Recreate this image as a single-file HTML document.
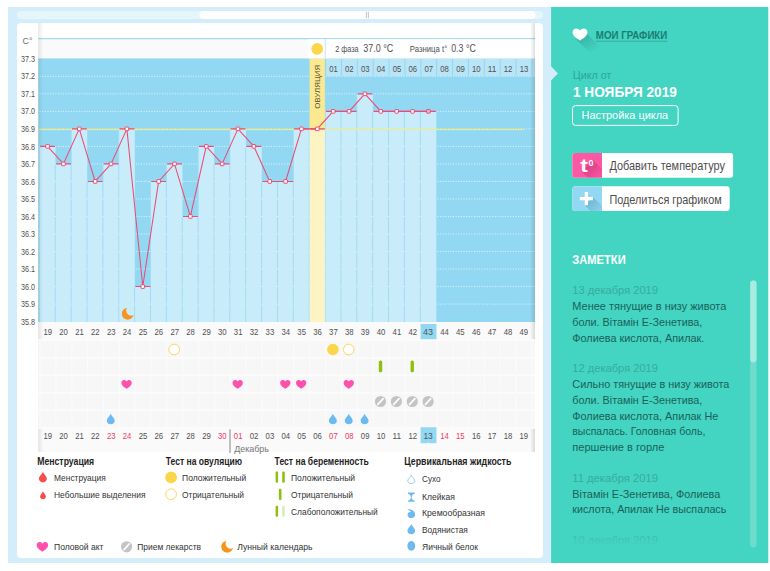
<!DOCTYPE html>
<html lang="ru"><head><meta charset="utf-8"><title>График базальной температуры</title>
<style>
html,body{margin:0;padding:0;background:#fff}
body{width:770px;height:571px;overflow:hidden;font-family:"Liberation Sans",sans-serif}
svg{display:block;font-family:"Liberation Sans",sans-serif}
</style></head><body>
<svg width="770" height="571" viewBox="0 0 770 571">
<defs>
<linearGradient id="shL" x1="0" x2="1" y1="0" y2="0"><stop offset="0" stop-color="#000" stop-opacity=".09"/><stop offset="1" stop-color="#000" stop-opacity="0"/></linearGradient>
<linearGradient id="shR" x1="1" x2="0" y1="0" y2="0"><stop offset="0" stop-color="#000" stop-opacity=".13"/><stop offset="1" stop-color="#000" stop-opacity="0"/></linearGradient>
<linearGradient id="fade" x1="0" x2="0" y1="0" y2="1"><stop offset="0" stop-color="#44d4c2" stop-opacity="0"/><stop offset="1" stop-color="#44d4c2" stop-opacity="1"/></linearGradient>
<linearGradient id="ls1" x1="0" x2="1" y1="0" y2="1"><stop offset="0" stop-color="#000" stop-opacity=".2"/><stop offset=".9" stop-color="#000" stop-opacity="0"/></linearGradient>
<linearGradient id="ls2" gradientUnits="userSpaceOnUse" x1="586" y1="163" x2="600" y2="177"><stop offset="0" stop-color="#7a0030" stop-opacity=".3"/><stop offset="1" stop-color="#7a0030" stop-opacity=".04"/></linearGradient>
<linearGradient id="ls3" gradientUnits="userSpaceOnUse" x1="587" y1="198" x2="601" y2="212"><stop offset="0" stop-color="#00507a" stop-opacity=".28"/><stop offset="1" stop-color="#00507a" stop-opacity=".04"/></linearGradient>
<pattern id="hatch" width="3" height="3" patternUnits="userSpaceOnUse"><rect width="3" height="3" fill="#f8f8f8"/><path d="M-1 2L1 4M0 0L3 3M2 -1L4 1" stroke="#f4f4f4" stroke-width="1"/></pattern>
<clipPath id="notesclip"><rect x="560" y="270" width="185" height="276"/></clipPath>
<path id="heart" d="M0 -3.1 C-1.4 -5.7 -5.7 -5.3 -5.7 -1.7 C-5.7 1.5 -2.6 3.2 0 5 C2.6 3.2 5.7 1.5 5.7 -1.7 C5.7 -5.3 1.4 -5.7 0 -3.1Z"/>
<path id="drop" d="M0 -5.5 C0.5 -3 3.95 -1 3.95 1.7 C3.95 3.8 2.2 5.3 0 5.3 C-2.2 5.3 -3.95 3.8 -3.95 1.7 C-3.95 -1 -0.5 -3 0 -5.5Z"/>
<g id="med"><circle r="5.6" fill="#c4c4c4"/><path d="M-2.7 2.9 L2.7 -2.9" stroke="#fff" stroke-width="1.6" stroke-linecap="round"/></g>
<path id="moon" transform="rotate(-13)" d="M1.2 -5.9 A5.95 5.95 0 1 0 5.9 2.7 A5.1 5.1 0 0 1 1.2 -5.9Z"/>
</defs>
<rect x="8" y="7" width="543.5" height="556" fill="#d3eefa"/>
<rect x="17" y="11" width="526" height="8" rx="4" fill="#e5f5fc"/>
<rect x="199.5" y="11" width="336" height="8" rx="4" fill="#fff"/>
<path d="M366.4 11.8v6.4M368.4 11.8v6.4" stroke="#c6cddd" stroke-width="1.2"/>
<rect x="17" y="23" width="526" height="535" rx="4" fill="#fff"/>
<rect x="38.2" y="39" width="496.8" height="20" fill="#fafafa"/>
<rect x="38.2" y="322" width="496.8" height="130" fill="#fafafa"/>
<rect x="38.2" y="38" width="496.8" height="1.3" fill="#a5dcf2"/>
<rect x="38.2" y="58.4" width="496.8" height="263.6" fill="#93d8f2"/>
<path d="M39.7 76.32H535M39.7 93.84H535M39.7 111.36H535M39.7 128.88H535M39.7 146.4H535M39.7 163.92H535M39.7 181.44H535M39.7 198.96H535M39.7 216.48H535M39.7 234H535M39.7 251.52H535M39.7 269.04H535M39.7 286.56H535M39.7 304.08H535" stroke="#fff" stroke-opacity=".75" stroke-width="1" stroke-dasharray="1 1.6" fill="none"/>
<path d="M39.6 146.4H55.47V322H39.6ZM55.47 163.92H71.34V322H55.47ZM71.34 128.88H87.21V322H71.34ZM87.21 181.44H103.08V322H87.21ZM103.08 163.92H118.95V322H103.08ZM118.95 128.88H134.82V322H118.95ZM134.82 286.56H150.69V322H134.82ZM150.69 181.44H166.56V322H150.69ZM166.56 163.92H182.43V322H166.56ZM182.43 216.48H198.3V322H182.43ZM198.3 146.4H214.17V322H198.3ZM214.17 163.92H230.04V322H214.17ZM230.04 128.88H245.91V322H230.04ZM245.91 146.4H261.78V322H245.91ZM261.78 181.44H277.65V322H261.78ZM277.65 181.44H293.52V322H277.65ZM293.52 128.88H309.39V322H293.52ZM309.39 128.88H325.26V322H309.39ZM325.26 111.36H341.13V322H325.26ZM341.13 111.36H357V322H341.13ZM357 93.84H372.87V322H357ZM372.87 111.36H388.74V322H372.87ZM388.74 111.36H404.61V322H388.74ZM404.61 111.36H420.48V322H404.61ZM420.48 111.36H436.35V322H420.48Z" fill="#c9ecfb"/>
<path d="M55.27 164.42V322M71.14 129.38V322M87.01 181.94V322M102.88 164.42V322M118.75 129.38V322M134.62 287.06V322M150.49 181.94V322M166.36 164.42V322M182.23 216.98V322M198.1 146.9V322M213.97 164.42V322M229.84 129.38V322M245.71 146.9V322M261.58 181.94V322M277.45 181.94V322M293.32 129.38V322M309.19 129.38V322M325.06 111.86V322M340.93 111.86V322M356.8 94.34V322M372.67 111.86V322M388.54 111.86V322M404.41 111.86V322M420.28 111.86V322" stroke="#a3dbf3" stroke-width="1" fill="none"/>
<path d="M54.67 181.44h1.2M54.67 198.96h1.2M54.67 216.48h1.2M54.67 234h1.2M54.67 251.52h1.2M54.67 269.04h1.2M54.67 286.56h1.2M54.67 304.08h1.2M70.54 181.44h1.2M70.54 198.96h1.2M70.54 216.48h1.2M70.54 234h1.2M70.54 251.52h1.2M70.54 269.04h1.2M70.54 286.56h1.2M70.54 304.08h1.2M86.41 198.96h1.2M86.41 216.48h1.2M86.41 234h1.2M86.41 251.52h1.2M86.41 269.04h1.2M86.41 286.56h1.2M86.41 304.08h1.2M102.28 198.96h1.2M102.28 216.48h1.2M102.28 234h1.2M102.28 251.52h1.2M102.28 269.04h1.2M102.28 286.56h1.2M102.28 304.08h1.2M118.15 181.44h1.2M118.15 198.96h1.2M118.15 216.48h1.2M118.15 234h1.2M118.15 251.52h1.2M118.15 269.04h1.2M118.15 286.56h1.2M118.15 304.08h1.2M134.02 304.08h1.2M149.89 304.08h1.2M165.76 198.96h1.2M165.76 216.48h1.2M165.76 234h1.2M165.76 251.52h1.2M165.76 269.04h1.2M165.76 286.56h1.2M165.76 304.08h1.2M181.63 234h1.2M181.63 251.52h1.2M181.63 269.04h1.2M181.63 286.56h1.2M181.63 304.08h1.2M197.5 234h1.2M197.5 251.52h1.2M197.5 269.04h1.2M197.5 286.56h1.2M197.5 304.08h1.2M213.37 181.44h1.2M213.37 198.96h1.2M213.37 216.48h1.2M213.37 234h1.2M213.37 251.52h1.2M213.37 269.04h1.2M213.37 286.56h1.2M213.37 304.08h1.2M229.24 181.44h1.2M229.24 198.96h1.2M229.24 216.48h1.2M229.24 234h1.2M229.24 251.52h1.2M229.24 269.04h1.2M229.24 286.56h1.2M229.24 304.08h1.2M245.11 163.92h1.2M245.11 181.44h1.2M245.11 198.96h1.2M245.11 216.48h1.2M245.11 234h1.2M245.11 251.52h1.2M245.11 269.04h1.2M245.11 286.56h1.2M245.11 304.08h1.2M260.98 198.96h1.2M260.98 216.48h1.2M260.98 234h1.2M260.98 251.52h1.2M260.98 269.04h1.2M260.98 286.56h1.2M260.98 304.08h1.2M276.85 198.96h1.2M276.85 216.48h1.2M276.85 234h1.2M276.85 251.52h1.2M276.85 269.04h1.2M276.85 286.56h1.2M276.85 304.08h1.2M292.72 198.96h1.2M292.72 216.48h1.2M292.72 234h1.2M292.72 251.52h1.2M292.72 269.04h1.2M292.72 286.56h1.2M292.72 304.08h1.2M308.59 146.4h1.2M308.59 163.92h1.2M308.59 181.44h1.2M308.59 198.96h1.2M308.59 216.48h1.2M308.59 234h1.2M308.59 251.52h1.2M308.59 269.04h1.2M308.59 286.56h1.2M308.59 304.08h1.2M324.46 146.4h1.2M324.46 163.92h1.2M324.46 181.44h1.2M324.46 198.96h1.2M324.46 216.48h1.2M324.46 234h1.2M324.46 251.52h1.2M324.46 269.04h1.2M324.46 286.56h1.2M324.46 304.08h1.2M340.33 128.88h1.2M340.33 146.4h1.2M340.33 163.92h1.2M340.33 181.44h1.2M340.33 198.96h1.2M340.33 216.48h1.2M340.33 234h1.2M340.33 251.52h1.2M340.33 269.04h1.2M340.33 286.56h1.2M340.33 304.08h1.2M356.2 128.88h1.2M356.2 146.4h1.2M356.2 163.92h1.2M356.2 181.44h1.2M356.2 198.96h1.2M356.2 216.48h1.2M356.2 234h1.2M356.2 251.52h1.2M356.2 269.04h1.2M356.2 286.56h1.2M356.2 304.08h1.2M372.07 128.88h1.2M372.07 146.4h1.2M372.07 163.92h1.2M372.07 181.44h1.2M372.07 198.96h1.2M372.07 216.48h1.2M372.07 234h1.2M372.07 251.52h1.2M372.07 269.04h1.2M372.07 286.56h1.2M372.07 304.08h1.2M387.94 128.88h1.2M387.94 146.4h1.2M387.94 163.92h1.2M387.94 181.44h1.2M387.94 198.96h1.2M387.94 216.48h1.2M387.94 234h1.2M387.94 251.52h1.2M387.94 269.04h1.2M387.94 286.56h1.2M387.94 304.08h1.2M403.81 128.88h1.2M403.81 146.4h1.2M403.81 163.92h1.2M403.81 181.44h1.2M403.81 198.96h1.2M403.81 216.48h1.2M403.81 234h1.2M403.81 251.52h1.2M403.81 269.04h1.2M403.81 286.56h1.2M403.81 304.08h1.2M419.68 128.88h1.2M419.68 146.4h1.2M419.68 163.92h1.2M419.68 181.44h1.2M419.68 198.96h1.2M419.68 216.48h1.2M419.68 234h1.2M419.68 251.52h1.2M419.68 269.04h1.2M419.68 286.56h1.2M419.68 304.08h1.2" stroke="#dff3fc" stroke-width="1" fill="none"/>
<rect x="309.59" y="58.4" width="15.27" height="70.48" fill="#fbe991"/>
<rect x="309.59" y="128.88" width="15.27" height="193.12" fill="#fdf4c3"/>
<rect x="326.16" y="58.4" width="14.77" height="17.6" fill="#b9e5f7"/>
<rect x="342.03" y="58.4" width="14.77" height="17.6" fill="#b9e5f7"/>
<rect x="357.9" y="58.4" width="14.77" height="17.6" fill="#b9e5f7"/>
<rect x="373.77" y="58.4" width="14.77" height="17.6" fill="#b9e5f7"/>
<rect x="389.64" y="58.4" width="14.77" height="17.6" fill="#b9e5f7"/>
<rect x="405.51" y="58.4" width="14.77" height="17.6" fill="#b9e5f7"/>
<rect x="421.38" y="58.4" width="14.77" height="17.6" fill="#b9e5f7"/>
<rect x="437.25" y="58.4" width="14.77" height="17.6" fill="#b9e5f7"/>
<rect x="453.12" y="58.4" width="14.77" height="17.6" fill="#b9e5f7"/>
<rect x="468.99" y="58.4" width="14.77" height="17.6" fill="#b9e5f7"/>
<rect x="484.86" y="58.4" width="14.77" height="17.6" fill="#b9e5f7"/>
<rect x="500.73" y="58.4" width="14.77" height="17.6" fill="#b9e5f7"/>
<rect x="516.6" y="58.4" width="14.77" height="17.6" fill="#b9e5f7"/>
<rect x="532.47" y="58.4" width="2.53" height="17.6" fill="#b9e5f7"/>
<rect x="38.2" y="128.98" width="485.4" height="1.1" fill="#f3ea7c"/>
<path d="M40.2 146.4H55.07M56.07 163.92H70.94M71.94 128.88H86.81M87.81 181.44H102.68M103.68 163.92H118.55M119.55 128.88H134.42M135.42 286.56H150.29M151.29 181.44H166.16M167.16 163.92H182.03M183.03 216.48H197.9M198.9 146.4H213.77M214.77 163.92H229.64M230.64 128.88H245.51M246.51 146.4H261.38M262.38 181.44H277.25M278.25 181.44H293.12M294.12 128.88H308.99M309.99 128.88H324.86M325.86 111.36H340.73M341.73 111.36H356.6M357.6 93.84H372.47M373.47 111.36H388.34M389.34 111.36H404.21M405.21 111.36H420.08M421.08 111.36H435.95" stroke="#e94c74" stroke-width="1.1" fill="none"/>
<polyline points="47.54,146.4 63.41,163.92 79.28,128.88 95.15,181.44 111.02,163.92 126.88,128.88 142.75,286.56 158.62,181.44 174.5,163.92 190.36,216.48 206.23,146.4 222.1,163.92 237.97,128.88 253.84,146.4 269.71,181.44 285.58,181.44 301.45,128.88 317.32,128.88 333.19,111.36 349.06,111.36 364.94,93.84 380.81,111.36 396.68,111.36 412.55,111.36 428.42,111.36" stroke="#e94c74" stroke-width="1.05" fill="none"/>
<rect x="45.74" y="144.6" width="3.6" height="3.6" rx=".5" fill="#fff" stroke="#e94c74" stroke-width="1"/>
<rect x="61.61" y="162.12" width="3.6" height="3.6" rx=".5" fill="#fff" stroke="#e94c74" stroke-width="1"/>
<rect x="77.48" y="127.08" width="3.6" height="3.6" rx=".5" fill="#fff" stroke="#e94c74" stroke-width="1"/>
<rect x="93.35" y="179.64" width="3.6" height="3.6" rx=".5" fill="#fff" stroke="#e94c74" stroke-width="1"/>
<rect x="109.22" y="162.12" width="3.6" height="3.6" rx=".5" fill="#fff" stroke="#e94c74" stroke-width="1"/>
<rect x="125.08" y="127.08" width="3.6" height="3.6" rx=".5" fill="#fff" stroke="#e94c74" stroke-width="1"/>
<rect x="140.95" y="284.76" width="3.6" height="3.6" rx=".5" fill="#fff" stroke="#e94c74" stroke-width="1"/>
<rect x="156.82" y="179.64" width="3.6" height="3.6" rx=".5" fill="#fff" stroke="#e94c74" stroke-width="1"/>
<rect x="172.69" y="162.12" width="3.6" height="3.6" rx=".5" fill="#fff" stroke="#e94c74" stroke-width="1"/>
<rect x="188.56" y="214.68" width="3.6" height="3.6" rx=".5" fill="#fff" stroke="#e94c74" stroke-width="1"/>
<rect x="204.43" y="144.6" width="3.6" height="3.6" rx=".5" fill="#fff" stroke="#e94c74" stroke-width="1"/>
<rect x="220.3" y="162.12" width="3.6" height="3.6" rx=".5" fill="#fff" stroke="#e94c74" stroke-width="1"/>
<rect x="236.17" y="127.08" width="3.6" height="3.6" rx=".5" fill="#fff" stroke="#e94c74" stroke-width="1"/>
<rect x="252.04" y="144.6" width="3.6" height="3.6" rx=".5" fill="#fff" stroke="#e94c74" stroke-width="1"/>
<rect x="267.91" y="179.64" width="3.6" height="3.6" rx=".5" fill="#fff" stroke="#e94c74" stroke-width="1"/>
<rect x="283.78" y="179.64" width="3.6" height="3.6" rx=".5" fill="#fff" stroke="#e94c74" stroke-width="1"/>
<rect x="299.65" y="127.08" width="3.6" height="3.6" rx=".5" fill="#fff" stroke="#e94c74" stroke-width="1"/>
<rect x="315.52" y="127.08" width="3.6" height="3.6" rx=".5" fill="#fff" stroke="#e94c74" stroke-width="1"/>
<rect x="331.39" y="109.56" width="3.6" height="3.6" rx=".5" fill="#fff" stroke="#e94c74" stroke-width="1"/>
<rect x="347.26" y="109.56" width="3.6" height="3.6" rx=".5" fill="#fff" stroke="#e94c74" stroke-width="1"/>
<rect x="363.13" y="92.04" width="3.6" height="3.6" rx=".5" fill="#fff" stroke="#e94c74" stroke-width="1"/>
<rect x="379" y="109.56" width="3.6" height="3.6" rx=".5" fill="#fff" stroke="#e94c74" stroke-width="1"/>
<rect x="394.88" y="109.56" width="3.6" height="3.6" rx=".5" fill="#fff" stroke="#e94c74" stroke-width="1"/>
<rect x="410.75" y="109.56" width="3.6" height="3.6" rx=".5" fill="#fff" stroke="#e94c74" stroke-width="1"/>
<rect x="426.62" y="109.56" width="3.6" height="3.6" rx=".5" fill="#f7b9c9" stroke="#e94c74" stroke-width="1"/>
<rect x="308.19" y="39.3" width="226.81" height="19.1" fill="#fff"/>
<rect x="324.66" y="39" width="1.1" height="19.4" fill="#c4e8f7"/>
<circle cx="317.2" cy="48.9" r="5.9" fill="#fbd64b"/>
<text x="335.2" y="52.1" font-size="8.2" fill="#505050" textLength="23.5" lengthAdjust="spacingAndGlyphs">2 фаза</text>
<text x="363.2" y="52.2" font-size="10.2" fill="#505050" textLength="30" lengthAdjust="spacingAndGlyphs">37.0 °C</text>
<text x="409.8" y="52.1" font-size="8.2" fill="#505050" textLength="37.5" lengthAdjust="spacingAndGlyphs">Разница t°</text>
<text x="451.2" y="52.2" font-size="10.2" fill="#505050" textLength="24.6" lengthAdjust="spacingAndGlyphs">0.3 °C</text>
<text transform="translate(320.2 108.8) rotate(-90)" font-size="8" fill="#5a5438" textLength="44" lengthAdjust="spacingAndGlyphs">ОВУЛЯЦИЯ</text>
<text x="333.5" y="72.2" font-size="8.2" fill="#505050" text-anchor="middle" textLength="8.6" lengthAdjust="spacingAndGlyphs">01</text>
<text x="349.37" y="72.2" font-size="8.2" fill="#505050" text-anchor="middle" textLength="8.6" lengthAdjust="spacingAndGlyphs">02</text>
<text x="365.24" y="72.2" font-size="8.2" fill="#505050" text-anchor="middle" textLength="8.6" lengthAdjust="spacingAndGlyphs">03</text>
<text x="381.11" y="72.2" font-size="8.2" fill="#505050" text-anchor="middle" textLength="8.6" lengthAdjust="spacingAndGlyphs">04</text>
<text x="396.98" y="72.2" font-size="8.2" fill="#505050" text-anchor="middle" textLength="8.6" lengthAdjust="spacingAndGlyphs">05</text>
<text x="412.85" y="72.2" font-size="8.2" fill="#505050" text-anchor="middle" textLength="8.6" lengthAdjust="spacingAndGlyphs">06</text>
<text x="428.72" y="72.2" font-size="8.2" fill="#505050" text-anchor="middle" textLength="8.6" lengthAdjust="spacingAndGlyphs">07</text>
<text x="444.59" y="72.2" font-size="8.2" fill="#505050" text-anchor="middle" textLength="8.6" lengthAdjust="spacingAndGlyphs">08</text>
<text x="460.46" y="72.2" font-size="8.2" fill="#505050" text-anchor="middle" textLength="8.6" lengthAdjust="spacingAndGlyphs">09</text>
<text x="476.32" y="72.2" font-size="8.2" fill="#505050" text-anchor="middle" textLength="8.6" lengthAdjust="spacingAndGlyphs">10</text>
<text x="492.19" y="72.2" font-size="8.2" fill="#505050" text-anchor="middle" textLength="8.6" lengthAdjust="spacingAndGlyphs">11</text>
<text x="508.06" y="72.2" font-size="8.2" fill="#505050" text-anchor="middle" textLength="8.6" lengthAdjust="spacingAndGlyphs">12</text>
<text x="523.93" y="72.2" font-size="8.2" fill="#505050" text-anchor="middle" textLength="8.6" lengthAdjust="spacingAndGlyphs">13</text>
<text x="22.6" y="44.2" font-size="9.8" fill="#707070" textLength="10" lengthAdjust="spacingAndGlyphs">C°</text>
<text x="21.1" y="61.9" font-size="8.3" fill="#505050" textLength="14" lengthAdjust="spacingAndGlyphs">37.3</text>
<text x="21.1" y="79.42" font-size="8.3" fill="#505050" textLength="14" lengthAdjust="spacingAndGlyphs">37.2</text>
<text x="21.1" y="96.94" font-size="8.3" fill="#505050" textLength="14" lengthAdjust="spacingAndGlyphs">37.1</text>
<text x="21.1" y="114.46" font-size="8.3" fill="#505050" textLength="14" lengthAdjust="spacingAndGlyphs">37.0</text>
<text x="21.1" y="131.98" font-size="8.3" fill="#505050" textLength="14" lengthAdjust="spacingAndGlyphs">36.9</text>
<text x="21.1" y="149.5" font-size="8.3" fill="#505050" textLength="14" lengthAdjust="spacingAndGlyphs">36.8</text>
<text x="21.1" y="167.02" font-size="8.3" fill="#505050" textLength="14" lengthAdjust="spacingAndGlyphs">36.7</text>
<text x="21.1" y="184.54" font-size="8.3" fill="#505050" textLength="14" lengthAdjust="spacingAndGlyphs">36.6</text>
<text x="21.1" y="202.06" font-size="8.3" fill="#505050" textLength="14" lengthAdjust="spacingAndGlyphs">36.5</text>
<text x="21.1" y="219.58" font-size="8.3" fill="#505050" textLength="14" lengthAdjust="spacingAndGlyphs">36.4</text>
<text x="21.1" y="237.1" font-size="8.3" fill="#505050" textLength="14" lengthAdjust="spacingAndGlyphs">36.3</text>
<text x="21.1" y="254.62" font-size="8.3" fill="#505050" textLength="14" lengthAdjust="spacingAndGlyphs">36.2</text>
<text x="21.1" y="272.14" font-size="8.3" fill="#505050" textLength="14" lengthAdjust="spacingAndGlyphs">36.1</text>
<text x="21.1" y="289.66" font-size="8.3" fill="#505050" textLength="14" lengthAdjust="spacingAndGlyphs">36.0</text>
<text x="21.1" y="307.18" font-size="8.3" fill="#505050" textLength="14" lengthAdjust="spacingAndGlyphs">35.9</text>
<text x="21.1" y="324.7" font-size="8.3" fill="#505050" textLength="14" lengthAdjust="spacingAndGlyphs">35.8</text>
<rect x="38.2" y="23" width="5" height="429" fill="url(#shL)"/>
<rect x="530" y="23" width="5" height="429" fill="url(#shR)"/>
<rect x="420.58" y="324" width="15.87" height="16.5" fill="#93d8f2"/>
<text x="47.74" y="335" font-size="8.2" fill="#505050" text-anchor="middle" textLength="8.6" lengthAdjust="spacingAndGlyphs">19</text>
<text x="63.61" y="335" font-size="8.2" fill="#505050" text-anchor="middle" textLength="8.6" lengthAdjust="spacingAndGlyphs">20</text>
<text x="79.48" y="335" font-size="8.2" fill="#505050" text-anchor="middle" textLength="8.6" lengthAdjust="spacingAndGlyphs">21</text>
<text x="95.35" y="335" font-size="8.2" fill="#505050" text-anchor="middle" textLength="8.6" lengthAdjust="spacingAndGlyphs">22</text>
<text x="111.22" y="335" font-size="8.2" fill="#505050" text-anchor="middle" textLength="8.6" lengthAdjust="spacingAndGlyphs">23</text>
<text x="127.08" y="335" font-size="8.2" fill="#505050" text-anchor="middle" textLength="8.6" lengthAdjust="spacingAndGlyphs">24</text>
<text x="142.95" y="335" font-size="8.2" fill="#505050" text-anchor="middle" textLength="8.6" lengthAdjust="spacingAndGlyphs">25</text>
<text x="158.82" y="335" font-size="8.2" fill="#505050" text-anchor="middle" textLength="8.6" lengthAdjust="spacingAndGlyphs">26</text>
<text x="174.69" y="335" font-size="8.2" fill="#505050" text-anchor="middle" textLength="8.6" lengthAdjust="spacingAndGlyphs">27</text>
<text x="190.56" y="335" font-size="8.2" fill="#505050" text-anchor="middle" textLength="8.6" lengthAdjust="spacingAndGlyphs">28</text>
<text x="206.43" y="335" font-size="8.2" fill="#505050" text-anchor="middle" textLength="8.6" lengthAdjust="spacingAndGlyphs">29</text>
<text x="222.3" y="335" font-size="8.2" fill="#505050" text-anchor="middle" textLength="8.6" lengthAdjust="spacingAndGlyphs">30</text>
<text x="238.17" y="335" font-size="8.2" fill="#505050" text-anchor="middle" textLength="8.6" lengthAdjust="spacingAndGlyphs">31</text>
<text x="254.04" y="335" font-size="8.2" fill="#505050" text-anchor="middle" textLength="8.6" lengthAdjust="spacingAndGlyphs">32</text>
<text x="269.91" y="335" font-size="8.2" fill="#505050" text-anchor="middle" textLength="8.6" lengthAdjust="spacingAndGlyphs">33</text>
<text x="285.78" y="335" font-size="8.2" fill="#505050" text-anchor="middle" textLength="8.6" lengthAdjust="spacingAndGlyphs">34</text>
<text x="301.65" y="335" font-size="8.2" fill="#505050" text-anchor="middle" textLength="8.6" lengthAdjust="spacingAndGlyphs">35</text>
<text x="317.52" y="335" font-size="8.2" fill="#505050" text-anchor="middle" textLength="8.6" lengthAdjust="spacingAndGlyphs">36</text>
<text x="333.39" y="335" font-size="8.2" fill="#505050" text-anchor="middle" textLength="8.6" lengthAdjust="spacingAndGlyphs">37</text>
<text x="349.26" y="335" font-size="8.2" fill="#505050" text-anchor="middle" textLength="8.6" lengthAdjust="spacingAndGlyphs">38</text>
<text x="365.13" y="335" font-size="8.2" fill="#505050" text-anchor="middle" textLength="8.6" lengthAdjust="spacingAndGlyphs">39</text>
<text x="381" y="335" font-size="8.2" fill="#505050" text-anchor="middle" textLength="8.6" lengthAdjust="spacingAndGlyphs">40</text>
<text x="396.88" y="335" font-size="8.2" fill="#505050" text-anchor="middle" textLength="8.6" lengthAdjust="spacingAndGlyphs">41</text>
<text x="412.75" y="335" font-size="8.2" fill="#505050" text-anchor="middle" textLength="8.6" lengthAdjust="spacingAndGlyphs">42</text>
<text x="428.12" y="335.2" font-size="9.3" fill="#475861" text-anchor="middle" textLength="10" lengthAdjust="spacingAndGlyphs">43</text>
<text x="444.49" y="335" font-size="8.2" fill="#505050" text-anchor="middle" textLength="8.6" lengthAdjust="spacingAndGlyphs">44</text>
<text x="460.36" y="335" font-size="8.2" fill="#505050" text-anchor="middle" textLength="8.6" lengthAdjust="spacingAndGlyphs">45</text>
<text x="476.22" y="335" font-size="8.2" fill="#505050" text-anchor="middle" textLength="8.6" lengthAdjust="spacingAndGlyphs">46</text>
<text x="492.09" y="335" font-size="8.2" fill="#505050" text-anchor="middle" textLength="8.6" lengthAdjust="spacingAndGlyphs">47</text>
<text x="507.96" y="335" font-size="8.2" fill="#505050" text-anchor="middle" textLength="8.6" lengthAdjust="spacingAndGlyphs">48</text>
<text x="523.83" y="335" font-size="8.2" fill="#505050" text-anchor="middle" textLength="8.6" lengthAdjust="spacingAndGlyphs">49</text>
<rect x="38.2" y="341" width="496.8" height="86" fill="url(#hatch)"/>
<path d="M40 340V428M55.87 340V428M71.74 340V428M87.61 340V428M103.48 340V428M119.35 340V428M135.22 340V428M151.09 340V428M166.96 340V428M182.83 340V428M198.7 340V428M214.57 340V428M230.44 340V428M246.31 340V428M262.18 340V428M278.05 340V428M293.92 340V428M309.79 340V428M325.66 340V428M341.53 340V428M357.4 340V428M373.27 340V428M389.14 340V428M405.01 340V428M420.88 340V428M436.75 340V428M452.62 340V428M468.49 340V428M484.36 340V428M500.23 340V428M516.1 340V428M531.97 340V428" stroke="#fbfbfb" stroke-width="1.2" fill="none"/>
<path d="M38.2 340.2H535M38.2 357.7H535M38.2 375.2H535M38.2 392.7H535M38.2 410.2H535M38.2 427.7H535" stroke="#fbfbfb" stroke-width="2" fill="none"/>
<circle cx="174.19" cy="349.5" r="5.3" fill="#fff" stroke="#fbd85c" stroke-width="1"/>
<circle cx="332.89" cy="349.5" r="5.8" fill="#fbd64b"/>
<circle cx="348.76" cy="349.5" r="5.3" fill="#fff" stroke="#fbd85c" stroke-width="1"/>
<rect x="378.81" y="360.6" width="3.4" height="11.6" rx="1.5" fill="#8dc110"/>
<rect x="410.55" y="360.6" width="3.4" height="11.6" rx="1.5" fill="#8dc110"/>
<use href="#heart" fill="#ff50ae" transform="translate(126.58 384.2) scale(.9)"/>
<use href="#heart" fill="#ff50ae" transform="translate(237.67 384.2) scale(.9)"/>
<use href="#heart" fill="#ff50ae" transform="translate(285.28 384.2) scale(.9)"/>
<use href="#heart" fill="#ff50ae" transform="translate(301.15 384.2) scale(.9)"/>
<use href="#heart" fill="#ff50ae" transform="translate(348.76 384.2) scale(.9)"/>
<use href="#med" x="380.5" y="401.5"/>
<use href="#med" x="396.38" y="401.5"/>
<use href="#med" x="412.25" y="401.5"/>
<use href="#med" x="428.12" y="401.5"/>
<use href="#drop" x="110.72" y="419" fill="#6cbaf0"/>
<use href="#drop" x="332.89" y="419" fill="#6cbaf0"/>
<use href="#drop" x="348.76" y="419" fill="#6cbaf0"/>
<use href="#drop" x="364.63" y="419" fill="#6cbaf0"/>
<use href="#moon" x="127.2" y="313.8" fill="#f7941d"/>
<path d="M420.58 427.3H436.45V443.2H429.48L428.48 442.2L427.48 443.2H420.58Z" fill="#93d8f2"/>
<text x="47.74" y="439.4" font-size="8.2" fill="#505050" text-anchor="middle" textLength="8.6" lengthAdjust="spacingAndGlyphs">19</text>
<text x="63.61" y="439.4" font-size="8.2" fill="#505050" text-anchor="middle" textLength="8.6" lengthAdjust="spacingAndGlyphs">20</text>
<text x="79.48" y="439.4" font-size="8.2" fill="#505050" text-anchor="middle" textLength="8.6" lengthAdjust="spacingAndGlyphs">21</text>
<text x="95.35" y="439.4" font-size="8.2" fill="#505050" text-anchor="middle" textLength="8.6" lengthAdjust="spacingAndGlyphs">22</text>
<text x="111.22" y="439.4" font-size="8.2" fill="#ee3a64" text-anchor="middle" textLength="8.6" lengthAdjust="spacingAndGlyphs">23</text>
<text x="127.08" y="439.4" font-size="8.2" fill="#ee3a64" text-anchor="middle" textLength="8.6" lengthAdjust="spacingAndGlyphs">24</text>
<text x="142.95" y="439.4" font-size="8.2" fill="#505050" text-anchor="middle" textLength="8.6" lengthAdjust="spacingAndGlyphs">25</text>
<text x="158.82" y="439.4" font-size="8.2" fill="#505050" text-anchor="middle" textLength="8.6" lengthAdjust="spacingAndGlyphs">26</text>
<text x="174.69" y="439.4" font-size="8.2" fill="#505050" text-anchor="middle" textLength="8.6" lengthAdjust="spacingAndGlyphs">27</text>
<text x="190.56" y="439.4" font-size="8.2" fill="#505050" text-anchor="middle" textLength="8.6" lengthAdjust="spacingAndGlyphs">28</text>
<text x="206.43" y="439.4" font-size="8.2" fill="#505050" text-anchor="middle" textLength="8.6" lengthAdjust="spacingAndGlyphs">29</text>
<text x="222.3" y="439.4" font-size="8.2" fill="#ee3a64" text-anchor="middle" textLength="8.6" lengthAdjust="spacingAndGlyphs">30</text>
<text x="238.17" y="439.4" font-size="8.2" fill="#ee3a64" text-anchor="middle" textLength="8.6" lengthAdjust="spacingAndGlyphs">01</text>
<text x="254.04" y="439.4" font-size="8.2" fill="#505050" text-anchor="middle" textLength="8.6" lengthAdjust="spacingAndGlyphs">02</text>
<text x="269.91" y="439.4" font-size="8.2" fill="#505050" text-anchor="middle" textLength="8.6" lengthAdjust="spacingAndGlyphs">03</text>
<text x="285.78" y="439.4" font-size="8.2" fill="#505050" text-anchor="middle" textLength="8.6" lengthAdjust="spacingAndGlyphs">04</text>
<text x="301.65" y="439.4" font-size="8.2" fill="#505050" text-anchor="middle" textLength="8.6" lengthAdjust="spacingAndGlyphs">05</text>
<text x="317.52" y="439.4" font-size="8.2" fill="#505050" text-anchor="middle" textLength="8.6" lengthAdjust="spacingAndGlyphs">06</text>
<text x="333.39" y="439.4" font-size="8.2" fill="#ee3a64" text-anchor="middle" textLength="8.6" lengthAdjust="spacingAndGlyphs">07</text>
<text x="349.26" y="439.4" font-size="8.2" fill="#ee3a64" text-anchor="middle" textLength="8.6" lengthAdjust="spacingAndGlyphs">08</text>
<text x="365.13" y="439.4" font-size="8.2" fill="#505050" text-anchor="middle" textLength="8.6" lengthAdjust="spacingAndGlyphs">09</text>
<text x="381" y="439.4" font-size="8.2" fill="#505050" text-anchor="middle" textLength="8.6" lengthAdjust="spacingAndGlyphs">10</text>
<text x="396.88" y="439.4" font-size="8.2" fill="#505050" text-anchor="middle" textLength="8.6" lengthAdjust="spacingAndGlyphs">11</text>
<text x="412.75" y="439.4" font-size="8.2" fill="#505050" text-anchor="middle" textLength="8.6" lengthAdjust="spacingAndGlyphs">12</text>
<text x="428.12" y="438.5" font-size="9.3" fill="#475861" text-anchor="middle" textLength="9.4" lengthAdjust="spacingAndGlyphs">13</text>
<text x="444.49" y="439.4" font-size="8.2" fill="#ee3a64" text-anchor="middle" textLength="8.6" lengthAdjust="spacingAndGlyphs">14</text>
<text x="460.36" y="439.4" font-size="8.2" fill="#ee3a64" text-anchor="middle" textLength="8.6" lengthAdjust="spacingAndGlyphs">15</text>
<text x="476.22" y="439.4" font-size="8.2" fill="#505050" text-anchor="middle" textLength="8.6" lengthAdjust="spacingAndGlyphs">16</text>
<text x="492.09" y="439.4" font-size="8.2" fill="#505050" text-anchor="middle" textLength="8.6" lengthAdjust="spacingAndGlyphs">17</text>
<text x="507.96" y="439.4" font-size="8.2" fill="#505050" text-anchor="middle" textLength="8.6" lengthAdjust="spacingAndGlyphs">18</text>
<text x="523.83" y="439.4" font-size="8.2" fill="#505050" text-anchor="middle" textLength="8.6" lengthAdjust="spacingAndGlyphs">19</text>
<rect x="229.5" y="429.3" width="1" height="23.7" fill="#868686"/>
<text x="234.2" y="451.6" font-size="9.6" fill="#777" textLength="34.7" lengthAdjust="spacingAndGlyphs">Декабрь</text>
<text x="37.2" y="464.6" font-size="10" font-weight="bold" fill="#1e1e1e" textLength="57" lengthAdjust="spacingAndGlyphs">Менструация</text>
<text x="165.8" y="464.6" font-size="10" font-weight="bold" fill="#1e1e1e" textLength="76.2" lengthAdjust="spacingAndGlyphs">Тест на овуляцию</text>
<text x="274.6" y="464.6" font-size="10" font-weight="bold" fill="#1e1e1e" textLength="94.2" lengthAdjust="spacingAndGlyphs">Тест на беременность</text>
<text x="404.3" y="464.6" font-size="10" font-weight="bold" fill="#1e1e1e" textLength="107" lengthAdjust="spacingAndGlyphs">Цервикальная жидкость</text>
<text x="54" y="481" font-size="9.5" fill="#333" textLength="51.8" lengthAdjust="spacingAndGlyphs">Менструация</text>
<text x="54" y="498.2" font-size="9.5" fill="#333" textLength="91.5" lengthAdjust="spacingAndGlyphs">Небольшие выделения</text>
<text x="54" y="550.2" font-size="9.5" fill="#333" textLength="49.5" lengthAdjust="spacingAndGlyphs">Половой акт</text>
<text x="137.3" y="550.2" font-size="9.5" fill="#333" textLength="63.7" lengthAdjust="spacingAndGlyphs">Прием лекарств</text>
<text x="237.3" y="550.2" font-size="9.5" fill="#333" textLength="75.3" lengthAdjust="spacingAndGlyphs">Лунный календарь</text>
<text x="182" y="481" font-size="9.5" fill="#333" textLength="64.2" lengthAdjust="spacingAndGlyphs">Положительный</text>
<text x="182" y="498.2" font-size="9.5" fill="#333" textLength="62" lengthAdjust="spacingAndGlyphs">Отрицательный</text>
<text x="291" y="481" font-size="9.5" fill="#333" textLength="64.1" lengthAdjust="spacingAndGlyphs">Положительный</text>
<text x="291" y="498.2" font-size="9.5" fill="#333" textLength="62" lengthAdjust="spacingAndGlyphs">Отрицательный</text>
<text x="291" y="515" font-size="9.5" fill="#333" textLength="86.8" lengthAdjust="spacingAndGlyphs">Слабоположительный</text>
<text x="422" y="482" font-size="9.5" fill="#333" textLength="18.5" lengthAdjust="spacingAndGlyphs">Сухо</text>
<text x="422" y="499.5" font-size="9.5" fill="#333" textLength="32.8" lengthAdjust="spacingAndGlyphs">Клейкая</text>
<text x="422" y="516.1" font-size="9.5" fill="#333" textLength="63" lengthAdjust="spacingAndGlyphs">Кремообразная</text>
<text x="422" y="533" font-size="9.5" fill="#333" textLength="45.8" lengthAdjust="spacingAndGlyphs">Водянистая</text>
<text x="422" y="549.8" font-size="9.5" fill="#333" textLength="55.9" lengthAdjust="spacingAndGlyphs">Яичный белок</text>
<use href="#drop" x="42.9" y="477.1" fill="#f84d4d"/>
<use href="#drop" x="43" y="495.2" fill="#f84d4d" transform="translate(43 495.2) scale(.74) translate(-43 -495.2)"/>
<use href="#heart" x="42.4" y="546.8" fill="#ff50ae"/>
<use href="#med" x="126.6" y="546.8"/>
<use href="#moon" x="226.6" y="546.8" fill="#f7941d"/>
<circle cx="171.1" cy="477.4" r="5.9" fill="#fbd64b"/>
<circle cx="171.1" cy="494.2" r="5.4" fill="#fff" stroke="#fbd85c" stroke-width="1"/>
<rect x="275.6" y="471.5" width="2.5" height="11.2" rx="1" fill="#8dc110"/><rect x="282.2" y="471.5" width="2.6" height="11.2" rx="1" fill="#8dc110"/>
<rect x="278.9" y="488.8" width="2.6" height="11.2" rx="1" fill="#8dc110"/>
<rect x="275.6" y="505.8" width="2.5" height="11" rx="1" fill="#8dc110"/><rect x="282.2" y="505.8" width="2.6" height="11" rx="1" fill="#dcecb4"/>
<use href="#drop" x="411.3" y="479.5" fill="#fff" stroke="#86c7f3" stroke-width="1" transform="translate(411.3 479.5) scale(.9 .79) translate(-411.3 -479.5)"/>
<path d="M407.9 492.6h6.8v1.1c-1.9 .5 -2.95 1.7 -2.95 3.5c0 1.8 1.05 3 2.95 3.5v1.1h-6.8v-1.1c1.9 -.5 2.95 -1.7 2.95 -3.5c0 -1.8 -1.05 -3 -2.95 -3.5z" fill="#6cbaf0"/>
<path d="M407.2 509.4c4.6 -.5 7.9 2 7.9 4.9a3.75 3.75 0 0 1 -7.5 .1c0 -1.7 1.5 -2.7 3.2 -2.4c-.6 -1.1 -1.9 -2 -3.6 -2.6z" fill="#6cbaf0"/>
<use href="#drop" x="411.3" y="529" fill="#6cbaf0" transform="translate(411.3 529) scale(.97 .97) translate(-411.3 -529)"/>
<ellipse cx="411.3" cy="545.9" rx="3.9" ry="4.85" fill="#6cbaf0"/>
<rect x="551.1" y="7" width="217.2" height="556" fill="#44d4c2"/>
<path d="M551 66.3L557.9 73.4L551 80.5Z" fill="#d3eefa"/>
<path d="M574 38L580 41L586.8 33.5L601 48L590 52Z" fill="url(#ls1)"/>
<use href="#heart" x="0" y="0" fill="#fff" transform="translate(580 34.4) scale(1.3 1.22)"/>
<text x="595.8" y="39" font-size="10.3" font-weight="bold" fill="#1b7d72" textLength="71.5" lengthAdjust="spacingAndGlyphs">МОИ ГРАФИКИ</text>
<rect x="595.8" y="40.8" width="71.5" height=".7" fill="#1b7d72" fill-opacity=".6"/>
<text x="572.7" y="78.7" font-size="11.7" fill="#2aa797" textLength="38.8" lengthAdjust="spacingAndGlyphs">Цикл от</text>
<text x="573" y="96.6" font-size="14.7" font-weight="bold" fill="#fff" textLength="103.8" lengthAdjust="spacingAndGlyphs">1 НОЯБРЯ 2019</text>
<rect x="572.5" y="105.6" width="105.6" height="19.8" rx="3" fill="none" stroke="#fff" stroke-width="1"/>
<text x="581.5" y="119.3" font-size="11.3" fill="#fff" textLength="86.7" lengthAdjust="spacingAndGlyphs">Настройка цикла</text>
<rect x="572.3" y="152.9" width="160.8" height="24.8" rx="3" fill="#fff"/>
<path d="M575.3 152.9H602V177.7H575.3a3 3 0 0 1 -3 -3V155.9a3 3 0 0 1 3 -3z" fill="#fd58a4"/>
<path d="M582 171.5L592.5 159.5L602 169V177.7H588.2Z" fill="url(#ls2)"/>
<text x="580.3" y="172" font-size="18.5" font-weight="bold" fill="#fff" textLength="7.6" lengthAdjust="spacingAndGlyphs">t</text>
<text x="588.6" y="166" font-size="9" font-weight="bold" fill="#fff" textLength="5" lengthAdjust="spacingAndGlyphs">0</text>
<text x="609.4" y="170" font-size="12.2" fill="#4e4e4e" textLength="115.5" lengthAdjust="spacingAndGlyphs">Добавить температуру</text>
<rect x="572.3" y="186.3" width="157.4" height="24.8" rx="3" fill="#fff"/>
<path d="M575.3 186.3H602V211.1H575.3a3 3 0 0 1 -3 -3V189.3a3 3 0 0 1 3 -3z" fill="#93d8f2"/>
<path d="M584.8 205.3L593 197L602 206V211.1H590.6Z" fill="url(#ls3)"/>
<path d="M579.8 198.7H593M586.4 192.1V205.3" stroke="#fff" stroke-width="3.3"/>
<text x="609.4" y="203.5" font-size="12.2" fill="#4e4e4e" textLength="112.3" lengthAdjust="spacingAndGlyphs">Поделиться графиком</text>
<text x="572.2" y="263.7" font-size="12" font-weight="bold" fill="#fff" textLength="53.5" lengthAdjust="spacingAndGlyphs">ЗАМЕТКИ</text>
<g clip-path="url(#notesclip)">
<text x="572.3" y="293.7" font-size="11.3" fill="#35ad9d" textLength="85.7" lengthAdjust="spacingAndGlyphs">13 декабря 2019</text>
<text x="572.3" y="310" font-size="11.3" fill="#19625a" textLength="154" lengthAdjust="spacingAndGlyphs">Менее тянущие в низу живота</text>
<text x="572.3" y="326" font-size="11.3" fill="#19625a" textLength="130" lengthAdjust="spacingAndGlyphs">боли. Вітамін Е-Зенетива,</text>
<text x="572.3" y="341.7" font-size="11.3" fill="#19625a" textLength="132" lengthAdjust="spacingAndGlyphs">Фолиева кислота, Апилак.</text>
<text x="572.3" y="372" font-size="11.3" fill="#35ad9d" textLength="85.7" lengthAdjust="spacingAndGlyphs">12 декабря 2019</text>
<text x="572.3" y="388" font-size="11.3" fill="#19625a" textLength="157.1" lengthAdjust="spacingAndGlyphs">Сильно тянущие в низу живота</text>
<text x="572.3" y="404" font-size="11.3" fill="#19625a" textLength="130" lengthAdjust="spacingAndGlyphs">боли. Вітамін Е-Зенетива,</text>
<text x="572.3" y="419.5" font-size="11.3" fill="#19625a" textLength="146" lengthAdjust="spacingAndGlyphs">Фолиева кислота, Апилак Не</text>
<text x="572.3" y="435.3" font-size="11.3" fill="#19625a" textLength="133" lengthAdjust="spacingAndGlyphs">выспалась. Головная боль,</text>
<text x="572.3" y="451" font-size="11.3" fill="#19625a" textLength="92" lengthAdjust="spacingAndGlyphs">першение в горле</text>
<text x="572.3" y="481.6" font-size="11.3" fill="#35ad9d" textLength="85.7" lengthAdjust="spacingAndGlyphs">11 декабря 2019</text>
<text x="572.3" y="497.6" font-size="11.3" fill="#19625a" textLength="148" lengthAdjust="spacingAndGlyphs">Вітамін Е-Зенетива, Фолиева</text>
<text x="572.3" y="513.3" font-size="11.3" fill="#19625a" textLength="154" lengthAdjust="spacingAndGlyphs">кислота, Апилак Не выспалась</text>
<text x="572.3" y="543.9" font-size="11.3" fill="#35ad9d" textLength="85.7" lengthAdjust="spacingAndGlyphs">10 декабря 2019</text>
</g>
<rect x="560" y="530" width="185" height="16" fill="url(#fade)"/>
<rect x="750.2" y="280.6" width="6.3" height="266.8" rx="3.1" fill="#6edccc"/>
<rect x="750.2" y="280.6" width="6.3" height="81.8" rx="3.1" fill="#a8ebe1"/>
</svg>
</body></html>
